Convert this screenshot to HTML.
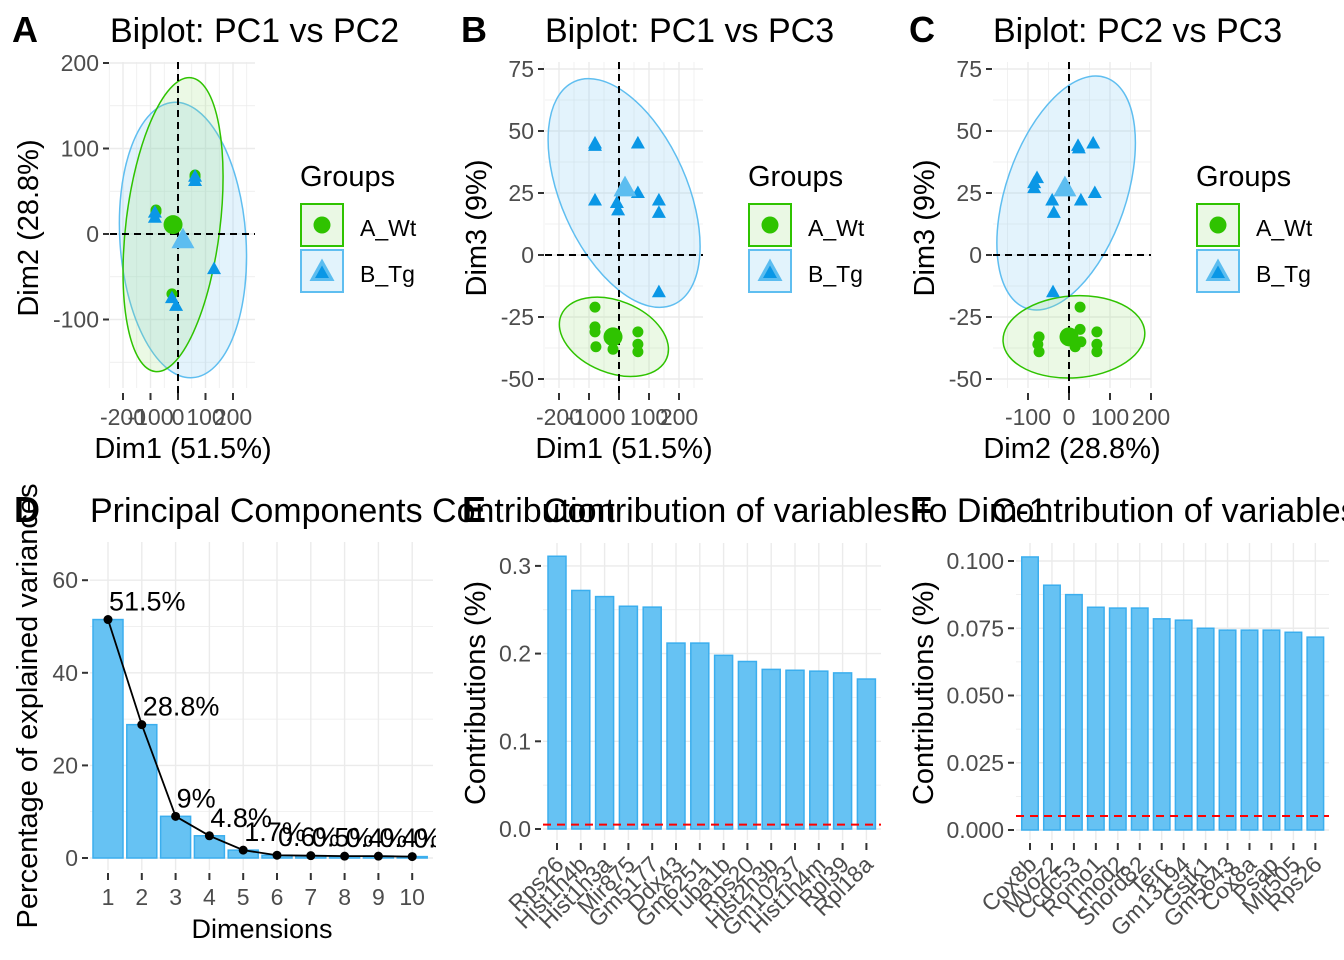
<!DOCTYPE html>
<html><head><meta charset="utf-8"><style>
html,body{margin:0;padding:0;background:#fff;}
svg{display:block;font-family:"Liberation Sans",Arial,sans-serif;}
</style></head><body>
<svg id="chart" width="1344" height="960" viewBox="0 0 1344 960"></svg>
<script>
// ---------- DATA ----------
// Panel A (Dim1 vs Dim2)
const aWtX=[-80,62,-22,-80,62];
const aWtY=[28,69,-70,26,67];
const aTgX=[-84,-84,62,62,131,-22,-7];
const aTgY=[25,19,67,62,-41,-75,-84];
const aWtMean=[-18,11];
const aTgMean=[18,-7];
// Panel B (Dim1 vs Dim3)
const bTgX=[-80,-80,63,-80,-7,-3,63,133,133,133];
const bTgY=[45,44,45,22,21,18,25,22,17,-15];
const bWtX=[-80,-80,-80,-77,-20,-7,63,63,63];
const bWtY=[-21,-29,-31,-37,-38,-33,-31,-36,-39];
const bWtMean=[-20,-33];
const bTgMean=[20,27];
// Panel C (Dim2 vs Dim3)
const cTgX=[-85,-78,-41,-37,22,24,59,29,63,-39,-85];
const cTgY=[29,31,22,17,44,43,45,22,25,-15,27];
const cWtX=[27,-73,-76,-73,7,27,29,15,68,68,68];
const cWtY=[-21,-33,-36,-39,-33,-30,-35,-37,-31,-36,-39];
const cWtMean=[0,-33];
const cTgMean=[-10,27];
// Panel D scree
const dims=[1,2,3,4,5,6,7,8,9,10];
const variance=[51.5,28.8,9,4.8,1.7,0.6,0.5,0.4,0.4,0.3];
const varianceLabels=["51.5%","28.8%","9%","4.8%","1.7%","0.6%","0.5%","0.4%","0.4%","0.3%"];
const dTicksY=[0,20,40,60];
// Panel E
const eVars=["Rps26","Hist1h4b","Hist1h3a","Mir875","Gm5177","Ddx43","Gm6251","Tuba1b","Rps20","Hist2h3b","Gm10237","Hist1h4m","Rpl39","Rpl18a"];
const eVals=[0.311,0.272,0.265,0.254,0.253,0.212,0.212,0.198,0.191,0.182,0.181,0.180,0.178,0.171];
const eRef=0.005;
const eTicks=[0,0.1,0.2,0.3];
const eTickLabels=["0.0","0.1","0.2","0.3"];
// Panel F
const fVars=["Cox8b","Myoz2","Ccdc53","Romo1","Lmod2","Snord82","Terc","Gm13194","Gstk1","Gm5643","Cox8a","Psap","Mir505","Rps26"];
const fVals=[0.1015,0.091,0.0875,0.0828,0.0825,0.0825,0.0785,0.078,0.075,0.0743,0.0743,0.0743,0.0735,0.0717];
const fRef=0.0052;
const fTicks=[0,0.025,0.05,0.075,0.1];
const fTickLabels=["0.000","0.025","0.050","0.075","0.100"];

// ---------- HELPERS ----------
const NS="http://www.w3.org/2000/svg";
const svg=document.getElementById("chart");
const GREEN="#2FC300", GREENFILL="#EAF8E4", BLUE="#0A97E6", BLUEMEAN="#5CBDF0", BLUESTROKE="#5FBEF0", BLUEFILL="#E2F3FC";
const GRID="#EBEBEB", TICKC="#4D4D4D";
const TICKFS=23;
function mk(tag,attrs,parent,text){
  const e=document.createElementNS(NS,tag);
  for(const k in attrs) e.setAttribute(k,attrs[k]);
  if(text!==undefined) e.textContent=text;
  (parent||svg).appendChild(e);
  return e;
}
function grp(name){
  const g=mk("g",{});
  
  
  return g;
}
function txt(parent,x,y,s,size,opts,name){
  const o=Object.assign({x:x,y:y,"font-size":size,fill:"#000"},opts||{});
  const t=mk("text",o,parent,s);
  
  
  return t;
}
function line(parent,x1,y1,x2,y2,stroke,w,name,dash){
  const o={x1:x1,y1:y1,x2:x2,y2:y2,stroke:stroke,"stroke-width":w};
  if(dash) o["stroke-dasharray"]=dash;
  const l=mk("line",o,parent);
  
  
  return l;
}
function tri(parent,cx,cy,s,fill,name){
  const h=s*0.9;
  const p=mk("polygon",{points:`${cx},${cy-h*0.6} ${cx-s/2},${cy+h*0.4} ${cx+s/2},${cy+h*0.4}`,fill:fill},parent);
  
  
  return p;
}
function circ(parent,cx,cy,r,fill,name){
  const c=mk("circle",{cx:cx,cy:cy,r:r,fill:fill},parent);
  
  
  return c;
}
function rng(a,b,s){const r=[];for(let v=a;v<=b+1e-9;v+=s)r.push(+v.toFixed(6));return r;}

// ---------- SCATTER PANELS ----------
function scatter(cfg){
  const g=grp(cfg.name);
  const {sx,sy,L,R,T,B}=cfg;
  cfg.gx.forEach(v=>{const x=sx(v); if(x>=L-1&&x<=R+1) line(g,x,T,x,B,GRID,cfg.gxMajor.includes(v)?1.4:0.7,"grid-x");});
  cfg.gy.forEach(v=>{const y=sy(v); if(y>=T-1&&y<=B+1) line(g,L,y,R,y,GRID,cfg.gyMajor.includes(v)?1.4:0.7,"grid-y");});
  cfg.ell.forEach(e=>{
    const el=mk("ellipse",{cx:sx(e.c[0]),cy:sy(e.c[1]),rx:e.rx,ry:e.ry,transform:`rotate(${e.rot} ${sx(e.c[0])} ${sy(e.c[1])})`,fill:e.fill,"fill-opacity":e.op,stroke:e.stroke,"stroke-width":1.5},g);
    
    
  });
  line(g,sx(0),T,sx(0),B+12,"#000",2,"zero-line-vertical","7,5");
  line(g,L,sy(0),R,sy(0),"#000",2,"zero-line-horizontal","7,5");
  cfg.wx.forEach((v,i)=>circ(g,sx(v),sy(cfg.wy[i]),5.5,GREEN,"point-a-wt"));
  cfg.tx.forEach((v,i)=>tri(g,sx(v),sy(cfg.ty[i]),14,BLUE,"point-b-tg"));
  circ(g,sx(cfg.wm[0]),sy(cfg.wm[1]),9.5,GREEN,"mean-a-wt");
  tri(g,sx(cfg.tm[0]),sy(cfg.tm[1]),23,BLUEMEAN,"mean-b-tg");
  cfg.xt.forEach((v,i)=>{line(g,sx(v),B+5,sx(v),B+12,"#333",2,"x-tick");
    txt(g,sx(v),B+37,cfg.xtl[i],TICKFS,{fill:TICKC,"text-anchor":"middle"},"x-tick-label");});
  cfg.yt.forEach((v,i)=>{line(g,L-7,sy(v),L-1,sy(v),"#333",2,"y-tick");
    txt(g,L-11,sy(v)+8,cfg.ytl[i],TICKFS,{fill:TICKC,"text-anchor":"end"},"y-tick-label");});
  txt(g,cfg.xTitleX,458,cfg.xTitle,29,{"text-anchor":"middle"},"x-axis-title");
  txt(g,0,0,cfg.yTitle,29,{"text-anchor":"middle",transform:`translate(${cfg.yTitleX},${cfg.yTitleY}) rotate(-90)`},"y-axis-title");
  txt(g,cfg.tagX,42,cfg.tag,36,{"font-weight":"bold"},"panel-tag");
  txt(g,cfg.titleX,42,cfg.title,34,{},"panel-title");
  const lg=grp("legend");
  const lx=cfg.legX;
  txt(lg,lx-1,186,"Groups",29,{},"legend-title");
  const b1=mk("rect",{x:lx,y:204,width:42,height:42,fill:GREENFILL,stroke:GREEN,"stroke-width":2},lg);
  
  
  circ(lg,lx+21,225,8.5,GREEN,"legend-symbol-a-wt");
  txt(lg,lx+59,236,"A_Wt",23,{},"legend-label-a-wt");
  const b2=mk("rect",{x:lx,y:250,width:42,height:42,fill:BLUEFILL,stroke:BLUESTROKE,"stroke-width":2},lg);
  
  
  tri(lg,lx+21,272,25,BLUEMEAN,"legend-symbol-b-tg-outer");
  tri(lg,lx+21,273,14,BLUE,"legend-symbol-b-tg");
  txt(lg,lx+59,282,"B_Tg",23,{},"legend-label-b-tg");
}

scatter({name:"panel-a-biplot-pc1-pc2",sx:v=>178+v*0.275,sy:v=>234-v*0.855,L:110,R:255,T:62,B:388,
  gx:rng(-250,250,50),gxMajor:[-200,-100,0,100,200],gy:rng(-150,200,50),gyMajor:[-100,0,100,200],
  ell:[{name:"ellipse-b-tg",c:[18,-7],rx:63,ry:138,rot:-4,fill:"#8FD0F5",op:0.25,stroke:BLUESTROKE},
       {name:"ellipse-a-wt",c:[-18,11],rx:47,ry:148,rot:7,fill:"#9BE07F",op:0.2,stroke:GREEN}],
  wx:aWtX,wy:aWtY,tx:aTgX,ty:aTgY,wm:aWtMean,tm:aTgMean,
  xt:[-200,-100,0,100,200],xtl:["-200","-100","0","100","200"],yt:[-100,0,100,200],ytl:["-100","0","100","200"],
  xTitle:"Dim1 (51.5%)",xTitleX:183,yTitle:"Dim2 (28.8%)",yTitleX:38,yTitleY:228,
  tag:"A",tagX:12,title:"Biplot: PC1 vs PC2",titleX:110,legX:301});

scatter({name:"panel-b-biplot-pc1-pc3",sx:v=>619+v*0.3,sy:v=>255-v*2.48,L:545,R:703,T:62,B:388,
  gx:rng(-250,250,50),gxMajor:[-200,-100,0,100,200],gy:rng(-50,75,12.5),gyMajor:[-50,-25,0,25,50,75],
  ell:[{name:"ellipse-b-tg",c:[17,25],rx:63,ry:122,rot:-24,fill:"#8FD0F5",op:0.25,stroke:BLUESTROKE},
       {name:"ellipse-a-wt",c:[-17,-33],rx:57,ry:36,rot:22,fill:"#9BE07F",op:0.2,stroke:GREEN}],
  wx:bWtX,wy:bWtY,tx:bTgX,ty:bTgY,wm:bWtMean,tm:bTgMean,
  xt:[-200,-100,0,100,200],xtl:["-200","-100","0","100","200"],yt:[-50,-25,0,25,50,75],ytl:["-50","-25","0","25","50","75"],
  xTitle:"Dim1 (51.5%)",xTitleX:624,yTitle:"Dim3 (9%)",yTitleX:486,yTitleY:228,
  tag:"B",tagX:461,title:"Biplot: PC1 vs PC3",titleX:545,legX:749});

scatter({name:"panel-c-biplot-pc2-pc3",sx:v=>1069+v*0.41,sy:v=>255-v*2.48,L:993,R:1151,T:62,B:388,
  gx:rng(-200,200,50),gxMajor:[-100,0,100,200],gy:rng(-50,75,12.5),gyMajor:[-50,-25,0,25,50,75],
  ell:[{name:"ellipse-b-tg",c:[-7,25],rx:60,ry:122,rot:19,fill:"#8FD0F5",op:0.25,stroke:BLUESTROKE},
       {name:"ellipse-a-wt",c:[12,-33],rx:71,ry:41,rot:-4,fill:"#9BE07F",op:0.2,stroke:GREEN}],
  wx:cWtX,wy:cWtY,tx:cTgX,ty:cTgY,wm:cWtMean,tm:cTgMean,
  xt:[-100,0,100,200],xtl:["-100","0","100","200"],yt:[-50,-25,0,25,50,75],ytl:["-50","-25","0","25","50","75"],
  xTitle:"Dim2 (28.8%)",xTitleX:1072,yTitle:"Dim3 (9%)",yTitleX:934,yTitleY:228,
  tag:"C",tagX:909,title:"Biplot: PC2 vs PC3",titleX:993,legX:1197});

// ---------- PANEL D ----------
(function(){
  const g=grp("panel-d-scree-plot");
  const sx=d=>108+(d-1)*33.8, sy=v=>858-v*4.63;
  const L=90,R=433,T=542,B=870;
  dims.forEach(d=>line(g,sx(d),T,sx(d),B,GRID,1.4,"grid-x"));
  rng(0,60,10).forEach(v=>line(g,L,sy(v),R,sy(v),GRID,v%20===0?1.4:0.7,"grid-y"));
  dims.forEach((d,i)=>{
    const r=mk("rect",{x:sx(d)-15,y:sy(variance[i]),width:30,height:sy(0)-sy(variance[i]),fill:"#66C2F3",stroke:"#3BAEEE","stroke-width":1.5},g);
    
    
  });
  const pl=mk("polyline",{points:dims.map((d,i)=>sx(d)+","+sy(variance[i])).join(" "),fill:"none",stroke:"#000","stroke-width":1.8},g);
  
  
  const clip=mk("clipPath",{id:"dclip"},g);
  mk("rect",{x:0,y:480,width:436,height:480},clip);
  const lblG=mk("g",{"clip-path":"url(#dclip)"},g);
  
  
  dims.forEach((d,i)=>{
    circ(g,sx(d),sy(variance[i]),4.5,"#000","variance-point");
    txt(lblG,sx(d)+1,sy(variance[i])-9,varianceLabels[i],27,{},"variance-label");
  });
  dims.forEach(d=>{line(g,sx(d),B+3,sx(d),B+10,"#333",2,"x-tick");
    txt(g,sx(d),905,String(d),TICKFS,{fill:TICKC,"text-anchor":"middle"},"x-tick-label");});
  dTicksY.forEach(v=>{line(g,82,sy(v),88,sy(v),"#333",2,"y-tick");
    txt(g,78,sy(v)+8,String(v),TICKFS,{fill:TICKC,"text-anchor":"end"},"y-tick-label");});
  txt(g,262,938,"Dimensions",27,{"text-anchor":"middle"},"x-axis-title");
  txt(g,0,0,"Percentage of explained variances",29,{"text-anchor":"middle",transform:"translate(37,706) rotate(-90)"},"y-axis-title");
  txt(g,14,522,"D",36,{"font-weight":"bold"},"panel-tag");
  txt(g,90,522,"Principal Components Contribution",34,{},"panel-title");
})();

// ---------- PANELS E & F ----------
function contrib(cfg){
  const g=grp(cfg.name);
  const {sx,sy,L,R,T,B,vars,vals}=cfg;
  vars.forEach((n,i)=>line(g,sx(i),T,sx(i),B,GRID,1.4,"grid-x"));
  cfg.gy.forEach(v=>line(g,L,sy(v),R,sy(v),GRID,cfg.ticks.some(t=>Math.abs(t-v)<1e-9)?1.4:0.7,"grid-y"));
  vals.forEach((v,i)=>{
    const r=mk("rect",{x:sx(i)-cfg.bw/2,y:sy(v),width:cfg.bw,height:sy(0)-sy(v),fill:"#66C2F3",stroke:"#3BAEEE","stroke-width":1.5},g);
    
    
  });
  line(g,L,sy(cfg.ref),R,sy(cfg.ref),"#FF0000",2,"reference-line","8,6");
  vars.forEach((n,i)=>{line(g,sx(i),B+3,sx(i),B+10,"#333",2,"x-tick");
    txt(g,0,0,n,TICKFS,{fill:TICKC,"text-anchor":"end",transform:`translate(${sx(i)+8},${B+26}) rotate(-45)`},"x-tick-label");});
  cfg.ticks.forEach((v,i)=>{line(g,L-8,sy(v),L-2,sy(v),"#333",2,"y-tick");
    txt(g,L-12,sy(v)+8,cfg.tickLabels[i],TICKFS,{fill:TICKC,"text-anchor":"end"},"y-tick-label");});
  txt(g,0,0,"Contributions (%)",29,{"text-anchor":"middle",transform:`translate(${cfg.yTitleX},693) rotate(-90)`},"y-axis-title");
  txt(g,cfg.tagX,522,cfg.tag,36,{"font-weight":"bold"},"panel-tag");
  txt(g,cfg.titleX,522,cfg.title,34,{},"panel-title");
}
contrib({name:"panel-e-contrib-dim1",sx:i=>557+i*23.8,sy:v=>829-v*877,L:543,R:881,T:543,B:840,bw:18,
  vars:eVars,vals:eVals,ref:eRef,ticks:eTicks,tickLabels:eTickLabels,gy:rng(0,0.3,0.05),
  yTitleX:485,tag:"E",tagX:462,title:"Contribution of variables to Dim-1",titleX:543});
contrib({name:"panel-f-contrib-dim2",sx:i=>1030+i*21.95,sy:v=>830-v*2690,L:1016,R:1329,T:543,B:840,bw:16.5,
  vars:fVars,vals:fVals,ref:fRef,ticks:fTicks,tickLabels:fTickLabels,gy:rng(0,0.1,0.0125),
  yTitleX:933,tag:"F",tagX:910,title:"Contribution of variables to Dim-2",titleX:991});
</script>
</body></html>
